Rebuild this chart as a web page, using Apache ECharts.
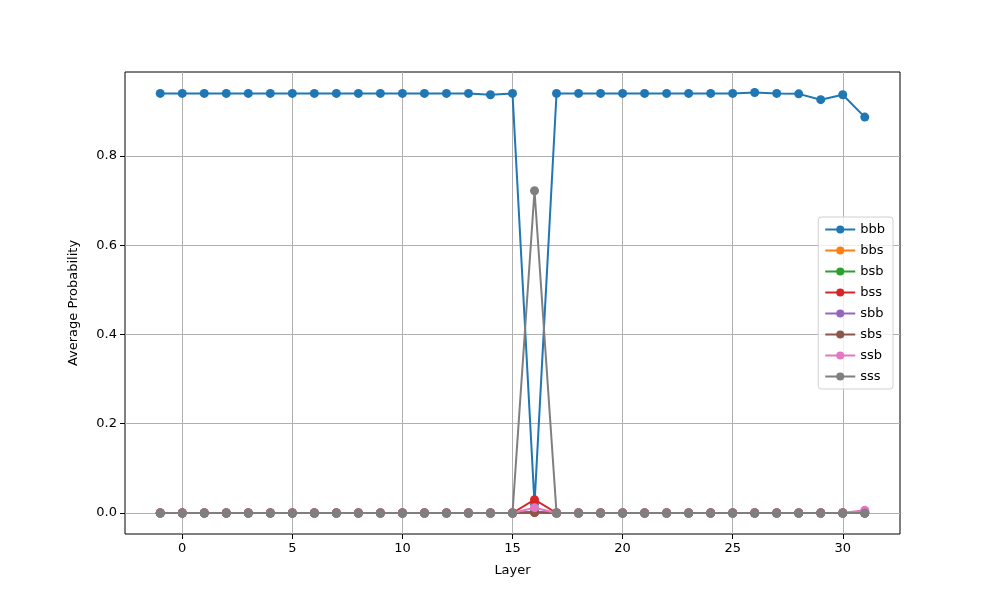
<!DOCTYPE html>
<html>
<head>
<meta charset="utf-8">
<script src="https://cdn.jsdelivr.net/npm/echarts@6/dist/echarts.min.js"></script>
<style>
  html, body { margin: 0; padding: 0; background: #fff; }
  #chart { width: 1000px; height: 600px; }
</style>
</head>
<body>
<div id="chart"></div>
<script>
// layers -1 .. 31
const layers = [-1, 0, 1, 2, 3, 4, 5, 6, 7, 8, 9, 10, 11, 12, 13, 14, 15, 16, 17, 18, 19, 20, 21, 22, 23, 24, 25, 26, 27, 28, 29, 30, 31];

const bbb = [0.94, 0.94, 0.94, 0.94, 0.94, 0.94, 0.94, 0.94, 0.94, 0.94, 0.94, 0.94, 0.94, 0.94, 0.94, 0.937, 0.94,
             0.02, 0.94, 0.94, 0.94, 0.94, 0.94, 0.94, 0.94, 0.94, 0.94, 0.942, 0.94, 0.939, 0.926, 0.937, 0.887];
const bbs = [0, 0, 0, 0, 0, 0, 0, 0, 0, 0, 0, 0, 0, 0, 0, 0, 0, 0.001, 0, 0, 0, 0, 0, 0, 0, 0, 0, 0, 0, 0, 0, 0, 0];
const bsb = [0, 0, 0, 0, 0, 0, 0, 0, 0, 0, 0, 0, 0, 0, 0, 0, 0, 0.003, 0, 0, 0, 0, 0, 0, 0, 0, 0, 0, 0, 0, 0, 0, 0];
const bss = [0, 0, 0, 0, 0, 0, 0, 0, 0, 0, 0, 0, 0, 0, 0, 0, 0, 0.03, 0, 0, 0, 0, 0, 0, 0, 0, 0, 0, 0, 0, 0, 0, 0];
const sbb = [0, 0, 0, 0, 0, 0, 0, 0, 0, 0, 0, 0, 0, 0, 0, 0, 0, 0.002, 0, 0, 0, 0, 0, 0, 0, 0, 0, 0, 0, 0, 0, 0, 0.004];
const sbs = [0, 0, 0, 0, 0, 0, 0, 0, 0, 0, 0, 0, 0, 0, 0, 0, 0, 0.001, 0, 0, 0, 0, 0, 0, 0, 0, 0, 0, 0, 0, 0, 0, 0];
const ssb = [0, 0, 0, 0, 0, 0, 0, 0, 0, 0, 0, 0, 0, 0, 0, 0, 0, 0.012, 0, 0, 0, 0, 0, 0, 0, 0, 0, 0, 0, 0, 0, 0, 0.006];
const sss = [0, 0, 0, 0, 0, 0, 0, 0, 0, 0, 0, 0, 0, 0, 0, 0, 0, 0.722, 0, 0, 0, 0, 0, 0, 0, 0, 0, 0, 0, 0, 0, 0, 0];

const seriesNames = ['bbb', 'bbs', 'bsb', 'bss', 'sbb', 'sbs', 'ssb', 'sss'];
const seriesValues = [bbb, bbs, bsb, bss, sbb, sbs, ssb, sss];
const colors = ['#1f77b4', '#ff7f0e', '#2ca02c', '#d62728', '#9467bd', '#8c564b', '#e377c2', '#7f7f7f'];

const xTicks = [0, 5, 10, 15, 20, 25, 30];
const yTicks = [0, 0.2, 0.4, 0.6, 0.8];

const font = 'DejaVu Sans';

let chart = echarts.init(document.getElementById('chart'));

chart.setOption({
    animation: false,
    color: colors,
    grid: {
        left: 125, right: 100, top: 72, bottom: 66,
        show: true, borderColor: '#000', borderWidth: 1, backgroundColor: 'transparent'
    },
    legend: {
        orient: 'vertical',
        right: 107,
        top: 217,
        padding: [6, 8, 6, 6],
        itemWidth: 30,
        itemHeight: 10,
        itemGap: 8,
        borderColor: '#d0d0d0',
        borderWidth: 1,
        borderRadius: 3,
        backgroundColor: 'rgba(255,255,255,0.8)',
        textStyle: { fontFamily: font, fontSize: 13, color: '#000' },
        data: seriesNames
    },
    xAxis: {
        type: 'value',
        min: -2.6,
        max: 32.6,
        name: 'Layer',
        nameLocation: 'middle',
        nameGap: 30,
        nameTextStyle: { fontFamily: font, fontSize: 13, color: '#000' },
        axisLine: { show: false, onZero: false },
        axisTick: { show: true, length: 5, customValues: xTicks, lineStyle: { color: '#000' } },
        axisLabel: { customValues: xTicks, fontFamily: font, fontSize: 13, color: '#000', margin: 8 },
        splitLine: { show: true, lineStyle: { color: '#b0b0b0', width: 1 } }
    },
    yAxis: {
        type: 'value',
        min: -0.047,
        max: 0.988,
        name: 'Average Probability',
        nameLocation: 'middle',
        nameGap: 45,
        nameTextStyle: { fontFamily: font, fontSize: 13, color: '#000' },
        axisLine: { show: false, onZero: false },
        axisTick: { show: true, length: 5, customValues: yTicks, lineStyle: { color: '#000' } },
        axisLabel: {
            customValues: yTicks, fontFamily: font, fontSize: 13, color: '#000', margin: 8,
            formatter: v => v.toFixed(1)
        },
        splitLine: { show: true, lineStyle: { color: '#b0b0b0', width: 1 } }
    },
    series: seriesNames.map((name, i) => ({
        name: name,
        type: 'line',
        data: layers.map((x, j) => [x, seriesValues[i][j]]),
        symbol: 'circle',
        symbolSize: 9,
        lineStyle: { width: 2 },
        itemStyle: { color: colors[i] },
        z: 2 + i
    }))
});
</script>
</body>
</html>
